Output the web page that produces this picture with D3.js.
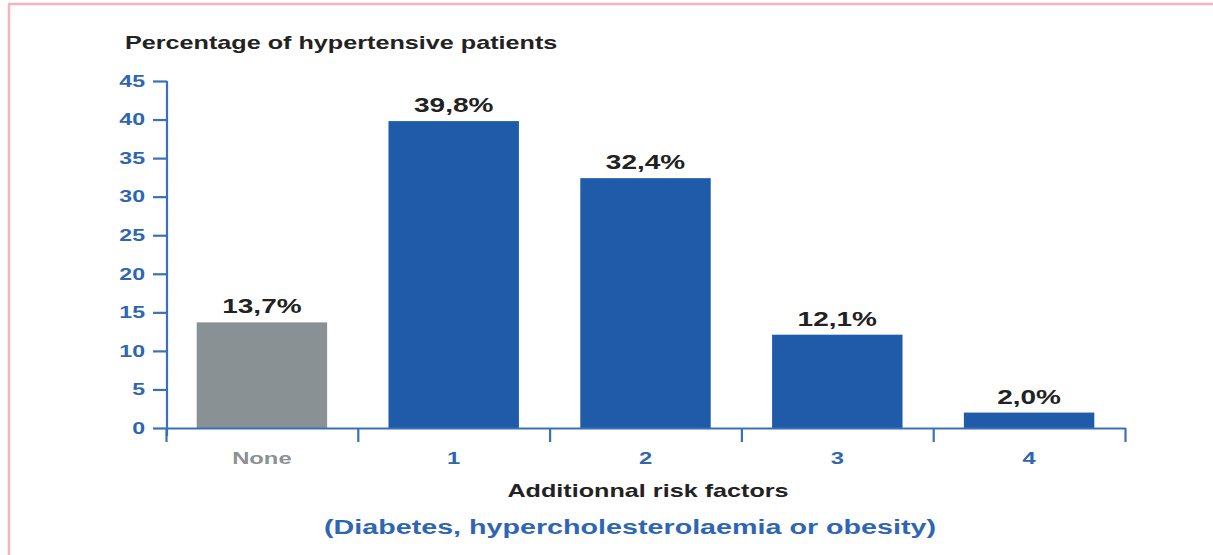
<!DOCTYPE html>
<html>
<head>
<meta charset="utf-8">
<script src="https://cdn.jsdelivr.net/npm/d3@7"></script>
<style>
  html, body { margin: 0; padding: 0; background: #fff; }
  svg { display: block; font-family: "Liberation Sans", Arial, Helvetica, sans-serif; font-weight: bold; }
</style>
</head>
<body>
<svg id="chart" width="1213" height="555"></svg>
<script>
// Share of hypertensive patients by number of additional risk factors
const categories = ["None", "1", "2", "3", "4"];
const values = [13.7, 39.8, 32.4, 12.1, 2.0];
const valueLabels = ["13,7%", "39,8%", "32,4%", "12,1%", "2,0%"];
const yTicks = [0, 5, 10, 15, 20, 25, 30, 35, 40, 45];

const title = "Percentage of hypertensive patients";
const xTitle = "Additionnal risk factors";
const xSubtitle = "(Diabetes, hypercholesterolaemia or obesity)";

const BLUE = "#1f5ba8";
const GREY = "#899194";
const AXIS = "#3b70b9";
const LABEL_BLUE = "#2e66b2";
const DARK = "#222";
const SX = 1.4; // horizontal stretch of the lettering

const svg = d3.select("#chart");

// frame
svg.append("path")
  .attr("d", "M9,555 L9,4 L1213,4")
  .attr("fill", "none")
  .attr("stroke", "#f4b3c2")
  .attr("stroke-width", 2.5);

const plotLeft = 166, plotRight = 1125, plotTop = 81, plotBottom = 428;

const x = d3.scaleBand().domain(categories).range([plotLeft, plotRight])
  .paddingInner(0.32).paddingOuter(0.16);
const y = d3.scaleLinear().domain([0, 45]).range([plotBottom, plotTop]);

// stretched text helper
function label(sel, tx, ty, text, size, color, anchor) {
  return sel.append("text")
    .attr("transform", `translate(${tx},${ty}) scale(${SX},1)`)
    .attr("text-anchor", anchor || "middle")
    .attr("font-size", size)
    .attr("fill", color)
    .text(text);
}

// bars
svg.append("g").selectAll("rect")
  .data(values)
  .join("rect")
  .attr("x", (d, i) => x(categories[i]))
  .attr("width", x.bandwidth())
  .attr("y", d => y(d))
  .attr("height", d => y(0) - y(d))
  .attr("fill", (d, i) => i === 0 ? GREY : BLUE);

// value labels
values.forEach((v, i) => {
  label(svg, x(categories[i]) + x.bandwidth() / 2, y(v) - 9, valueLabels[i], 20, DARK);
});

// y axis
const yAxis = svg.append("g")
  .attr("transform", `translate(${plotLeft + 1},0)`)
  .call(d3.axisLeft(y).tickValues(yTicks).tickSize(14).tickSizeOuter(0).tickPadding(8));
yAxis.select(".domain").attr("stroke", AXIS).attr("stroke-width", 2.2)
  .attr("d", `M0,${plotTop}V${plotBottom + 8}`);
yAxis.selectAll(".tick line").attr("stroke", AXIS).attr("stroke-width", 2.2);
yAxis.selectAll(".tick text")
  .attr("x", null)
  .attr("transform", `translate(-22,0) scale(${SX},1)`)
  .attr("font-size", 16.5)
  .attr("font-weight", "bold")
  .attr("font-family", null)
  .attr("fill", LABEL_BLUE);

// x axis: baseline with ticks at band boundaries
const xb = d3.scaleLinear().domain([0, categories.length]).range([plotLeft, plotRight]);
const xAxis = svg.append("g")
  .attr("transform", `translate(0,${plotBottom})`)
  .call(d3.axisBottom(xb).tickValues(d3.range(categories.length + 1))
    .tickFormat("").tickSize(14).tickSizeOuter(0));
xAxis.select(".domain").attr("stroke", AXIS).attr("stroke-width", 2.2);
xAxis.selectAll(".tick line").attr("stroke", AXIS).attr("stroke-width", 2.2);

// category labels
categories.forEach((c, i) => {
  label(svg, x(c) + x.bandwidth() / 2, 464, c, 17, i === 0 ? "#8b9194" : LABEL_BLUE);
});

// titles
label(svg, 125, 49, title, 18, DARK, "start");
label(svg, 648, 497, xTitle, 18, DARK);
label(svg, 630, 534, xSubtitle, 20.5, LABEL_BLUE);
</script>
</body>
</html>
